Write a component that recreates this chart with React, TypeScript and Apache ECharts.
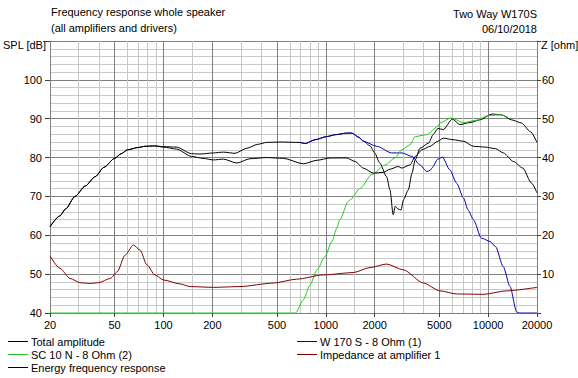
import React, { useEffect, useRef } from "react";
import * as echarts from "echarts";

const xLabelValues = [20, 50, 100, 200, 500, 1000, 2000, 5000, 10000, 20000];
const xMajorGrid = [50, 100, 200, 500, 1000, 2000, 5000, 10000];
const xMinorGrid = [30, 40, 60, 70, 80, 90, 150, 300, 400, 600, 700, 800, 900, 1500, 3000, 4000, 6000, 7000, 8000, 9000, 15000];

const totalAmplitude: [number, number][] = [
  [20, 62.2], [23, 65.0], [25, 66.8], [28.5, 70.0], [33, 72.7], [38, 75.1], [43, 77.5], [50, 79.8],
  [55, 81.0], [60, 82.0], [70, 82.6], [77, 82.9], [88, 83.0], [100, 82.8], [120, 82.7], [149, 81.0],
  [168, 80.9], [203, 81.2], [234, 81.4], [276, 81.1], [326, 82.4], [380, 83.4], [432, 83.9], [522, 84.0],
  [694, 83.9], [745, 83.6], [860, 84.6], [1013, 85.4], [1150, 85.9], [1346, 86.3], [1446, 86.3],
  [1600, 85.2], [1702, 84.3], [1874, 83.0], [2000, 81.2], [2150, 78.6], [2370, 75.1], [2484, 71.7],
  [2600, 65.3], [2680, 67.5], [2780, 66.8], [2908, 66.5], [3006, 69.1], [3224, 71.7], [3396, 76.0],
  [3554, 79.4], [3804, 82.4], [4288, 83.7], [4600, 86.0], [4900, 87.5], [5290, 87.2], [6020, 89.9],
  [6700, 88.5], [7720, 89.0], [8880, 89.7], [10540, 91.2], [12100, 91.0], [13950, 89.7], [16040, 88.9],
  [18190, 86.7], [20000, 83.9],
];

const woofer: [number, number][] = [
  [694, 83.9], [745, 83.6], [860, 84.6], [1013, 85.4], [1150, 85.9], [1346, 86.3], [1446, 86.3],
  [1600, 85.2], [1702, 84.2], [2062, 82.9], [2545, 81.2], [2938, 81.2], [3396, 80.3], [3804, 78.1],
  [4190, 76.4], [4390, 76.7], [4497, 77.3], [4900, 79.6], [5230, 80.1], [5800, 76.9], [6400, 73.4],
  [7050, 69.6], [7530, 66.5], [8120, 64.0], [9080, 59.3], [10300, 58.4], [11100, 57.1], [12400, 51.9],
  [13640, 46.8], [14980, 40.3], [15500, 40], [20000, 40],
];

const tweeter: [number, number][] = [
  [20, 40], [652, 40], [727, 43.4], [800, 47.2], [882, 51.1], [988, 54.5], [1090, 58.4], [1168, 61.8],
  [1220, 64.0], [1376, 68.7], [1410, 69.1], [1630, 72.1], [1916, 75.6], [2320, 78.1], [2670, 79.9],
  [2938, 82.0], [3300, 83.3], [3554, 85.4], [4190, 85.9], [4900, 88.0], [5040, 88.9], [5920, 90.2],
  [7050, 89.0], [8480, 89.6], [10000, 90.8], [11830, 91.0], [13260, 90.4],
];

const impedance: [number, number][] = [
  [20, 14.7], [23, 11.5], [26.6, 8.9], [30.6, 7.8], [35, 7.6], [39.9, 7.8], [47.1, 8.9], [51.9, 10.6],
  [58, 14.9], [65.3, 17.5], [71.8, 16.2], [79, 12.4], [88.6, 9.8], [100, 8.5], [126, 7.5], [146, 6.8],
  [203, 6.6], [296, 6.8], [474, 7.7], [660, 8.7], [966, 9.8], [1474, 10.4], [1874, 11.7], [2370, 12.6],
  [3006, 11.1], [4000, 7.7], [5040, 5.7], [6400, 4.9], [9320, 4.8], [13000, 5.7], [20000, 6.6],
];

const energyResponse: [number, number][] = [
  [20, 62.2], [23, 65.0], [25, 66.8], [28.5, 70.0], [33, 72.7], [38, 75.1], [43, 77.5], [50, 79.8],
  [55, 81.0], [60, 82.0], [70, 82.6], [77, 82.9], [88, 83.0], [100, 82.7], [120, 82.2], [149, 80.3],
  [175, 79.8], [203, 79.4], [234, 79.6], [283, 78.6], [341, 79.7], [432, 80.0], [548, 79.8], [727, 78.4],
  [882, 79.3], [1062, 79.9], [1346, 79.9], [1514, 79.0], [1702, 77.3], [1962, 76.0], [2262, 76.2],
  [2484, 77.0], [2792, 77.7], [2938, 77.3], [3300, 78.1], [3554, 80.3], [3912, 82.0], [4390, 82.9],
  [4900, 84.2], [5290, 85.0], [6080, 84.6], [7050, 84.2], [8120, 82.9], [9560, 82.7], [11100, 82.3],
  [12400, 81.2], [14320, 79.0], [16340, 77.3], [18520, 73.4], [20000, 70.9],
];

const FONT = '"Liberation Sans", Arial, sans-serif';

export default function App() {
  const ref = useRef<HTMLDivElement>(null);
  useEffect(() => {
    if (!ref.current) return;
    const chart = echarts.init(ref.current, null, { renderer: "svg" });
    const lineSeries = (name: string, data: [number, number][], color: string, yAxisIndex = 0) => ({
      name,
      type: "line",
      data,
      yAxisIndex,
      showSymbol: false,
      symbol: "none",
      smooth: 0.25,
      smoothMonotone: "x",
      z: 10,
      lineStyle: { color, width: 1 },
      itemStyle: { color },
    });
    const legendText = { fontSize: 11, fontFamily: FONT, color: "#000", lineHeight: 13, padding: [0, 0, 0, -2] };
    chart.setOption({
      animation: false,
      backgroundColor: "#ffffff",
      textStyle: { fontFamily: FONT },
      grid: { left: 50, right: 41, top: 41, bottom: 65, containLabel: false },
      xAxis: {
        type: "log",
        logBase: 10,
        min: 20,
        max: 20000,
        axisLine: { show: true, lineStyle: { color: "#808080" } },
        axisTick: { show: true, customValues: xLabelValues, length: 4, lineStyle: { color: "#404040" } },
        axisLabel: {
          customValues: xLabelValues,
          color: "#000",
          fontSize: 11,
          fontFamily: FONT,
          margin: 6,
          formatter: (v: number) => String(Math.round(v)),
        },
        splitLine: { show: false },
        minorTick: { show: false },
      },
      yAxis: [
        {
          type: "value",
          min: 40,
          max: 110,
          interval: 10,
          axisLine: { show: true, lineStyle: { color: "#808080" } },
          axisTick: { show: true, length: 5, lineStyle: { color: "#404040" } },
          axisLabel: {
            color: "#000",
            fontSize: 11,
            fontFamily: FONT,
            margin: 8,
            formatter: (v: number) => (v >= 110 ? "" : String(v)),
          },
          splitLine: { show: true, lineStyle: { color: "#808080", width: 1 } },
          minorTick: { show: false, splitNumber: 5 },
          minorSplitLine: { show: true, lineStyle: { color: "#c8c8c8", width: 1 } },
        },
        {
          type: "value",
          min: 0,
          max: 70,
          interval: 10,
          position: "right",
          axisLine: { show: true, lineStyle: { color: "#808080" } },
          axisTick: { show: true, length: 4, lineStyle: { color: "#404040" } },
          axisLabel: {
            color: "#000",
            fontSize: 11,
            fontFamily: FONT,
            margin: 5,
            formatter: (v: number) => (v <= 0 || v >= 70 ? "" : String(v)),
          },
          splitLine: { show: false },
        },
      ],
      legend: [
        {
          left: 8,
          top: 335,
          padding: 0,
          orient: "vertical",
          itemGap: 0,
          itemWidth: 20,
          itemHeight: 1,
          icon: "rect",
          data: ["Total amplitude", "SC 10 N - 8 Ohm (2)", "Energy frequency response"],
          textStyle: legendText,
        },
        {
          left: 297,
          top: 335,
          padding: 0,
          orient: "vertical",
          itemGap: 0,
          itemWidth: 20,
          itemHeight: 1,
          icon: "rect",
          data: ["W 170 S - 8 Ohm (1)", "Impedance at amplifier 1"],
          textStyle: legendText,
        },
      ],
      graphic: [
        { type: "text", x: 51, y: 12, style: { text: "Frequency response whole speaker", font: `11px ${FONT}`, fill: "#000", verticalAlign: "middle" } },
        { type: "text", x: 51, y: 28, style: { text: "(all amplifiers and drivers)", font: `11px ${FONT}`, fill: "#000", verticalAlign: "middle" } },
        { type: "text", x: 3, y: 45, style: { text: "SPL [dB]", font: `11px ${FONT}`, fill: "#000", verticalAlign: "middle" } },
        { type: "text", x: 537, y: 14, style: { text: "Two Way W170S", font: `11px ${FONT}`, fill: "#000", align: "right", verticalAlign: "middle" } },
        { type: "text", x: 537, y: 29, style: { text: "06/10/2018", font: `11px ${FONT}`, fill: "#000", align: "right", verticalAlign: "middle" } },
        { type: "text", x: 541, y: 45, style: { text: "Z [ohm]", font: `11px ${FONT}`, fill: "#000", verticalAlign: "middle" } },
      ],
      series: [
        {
          name: "gridMinor",
          type: "line",
          data: [],
          z: 1,
          markLine: {
            silent: true,
            symbol: "none",
            label: { show: false },
            lineStyle: { color: "#c8c8c8", type: "solid", width: 1 },
            data: xMinorGrid.map((v) => ({ xAxis: v })),
          },
        },
        {
          name: "gridMajor",
          type: "line",
          data: [],
          z: 2,
          markLine: {
            silent: true,
            symbol: "none",
            label: { show: false },
            lineStyle: { color: "#808080", type: "solid", width: 1 },
            data: xMajorGrid.map((v) => ({ xAxis: v })),
          },
        },
        lineSeries("Total amplitude", totalAmplitude, "#000000"),
        lineSeries("W 170 S - 8 Ohm (1)", woofer, "#0000b4"),
        lineSeries("SC 10 N - 8 Ohm (2)", tweeter, "#22c822"),
        lineSeries("Impedance at amplifier 1", impedance, "#800000", 1),
        lineSeries("Energy frequency response", energyResponse, "#000000"),
      ],
    });
    return () => chart.dispose();
  }, []);
  return <div ref={ref} style={{ position: "fixed", left: 0, top: 0, width: 578, height: 378 }} />;
}
